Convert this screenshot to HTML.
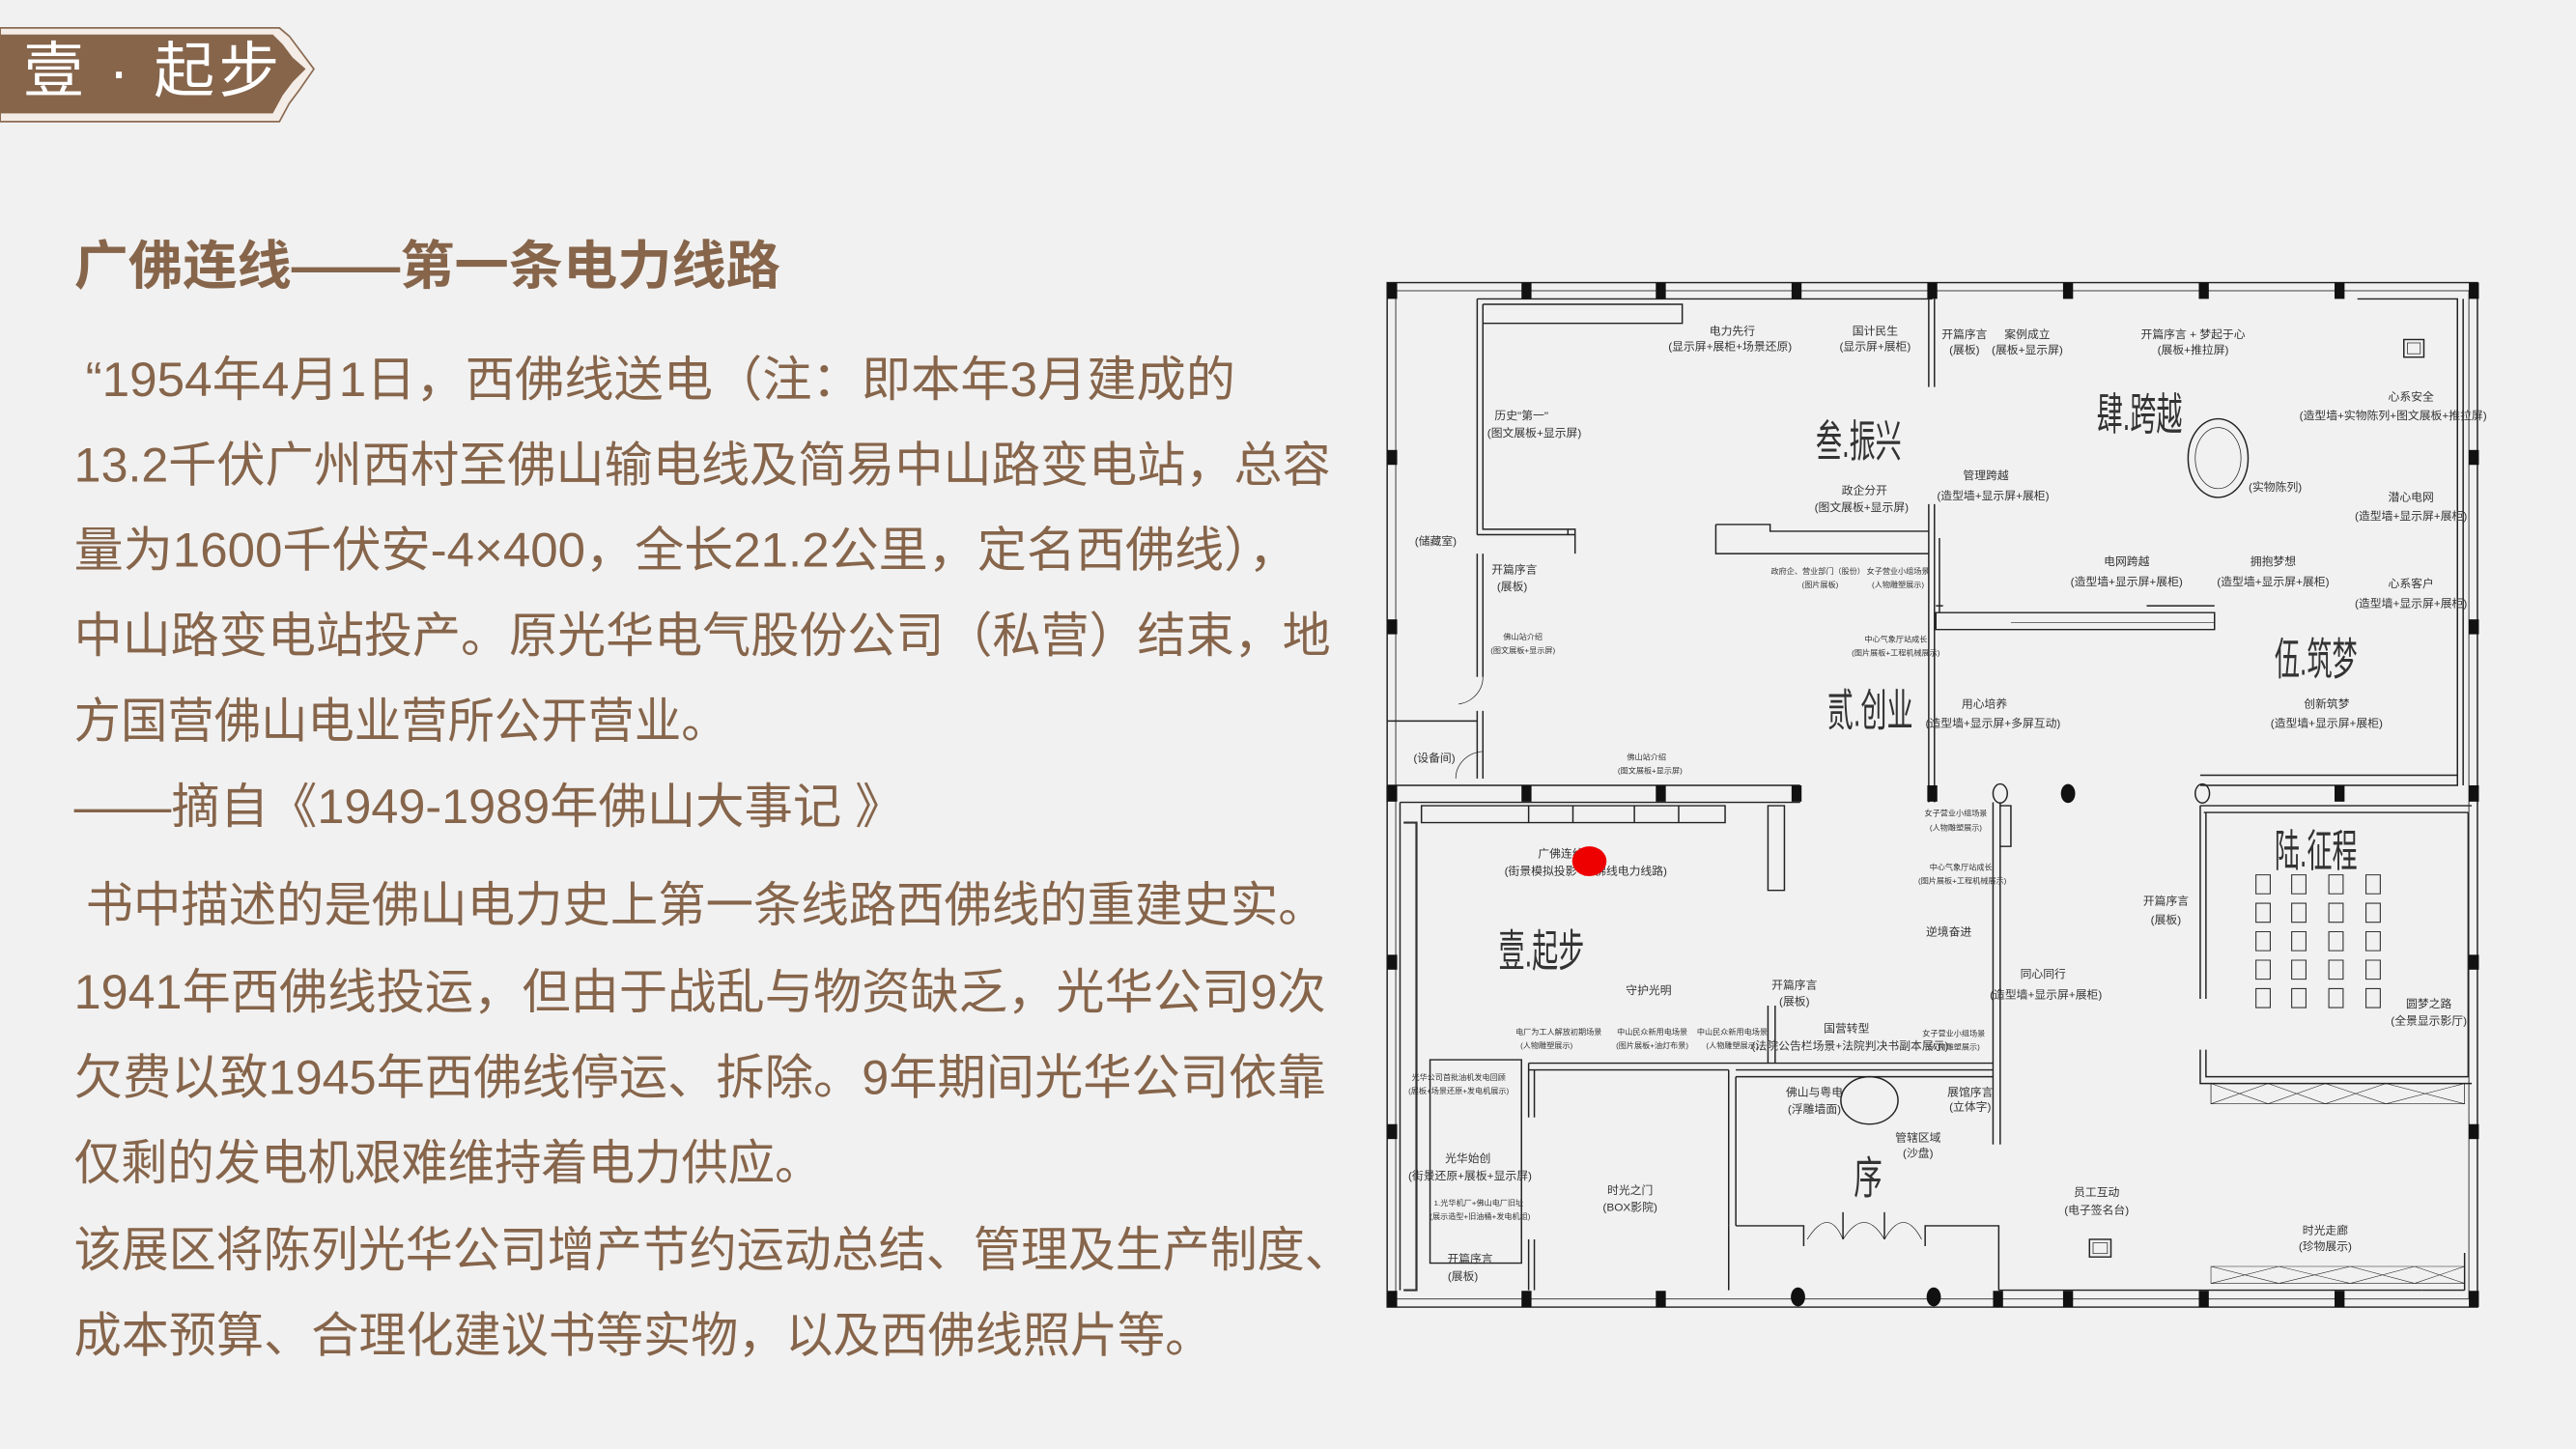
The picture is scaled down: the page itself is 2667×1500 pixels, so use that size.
<!DOCTYPE html>
<html><head><meta charset="utf-8"><style>
html,body{margin:0;padding:0;background:#f1f1f1;}
svg{display:block;}
.b{font-family:"Liberation Sans","Noto Sans CJK SC",sans-serif;fill:#86654b;font-size:29.5px;}
.p{font-family:"Liberation Sans","Noto Sans CJK SC",sans-serif;fill:#333;}
</style></head><body>
<svg width="2667" height="1500" viewBox="0 0 1568 882" xmlns="http://www.w3.org/2000/svg">
<rect width="1568" height="882" fill="#f1f1f1"/>
<path d="M0,17 L170,17 L176,22 L182,30 L191,42 L182,55 L176,63 L170,74 L0,74 Z" fill="#f4ece6" stroke="#8a6a52" stroke-width="1"/>
<path d="M0,21 L166,21 L172,27 L178,35 L186,42 L178,50 L172,58 L166,69 L0,69 Z" fill="#86654b"/>
<text x="14" y="56" font-family="Liberation Sans,Noto Sans CJK SC,sans-serif" font-size="37" fill="#fff" textLength="156" lengthAdjust="spacing">壹 · 起步</text>
<text x="45" y="173" font-family="Liberation Sans,Noto Sans CJK SC,sans-serif" font-size="32" font-weight="bold" fill="#86654b" textLength="430" lengthAdjust="spacingAndGlyphs">广佛连线——第一条电力线路</text>
<text class="b" x="52" y="241" textLength="700" lengthAdjust="spacingAndGlyphs">“1954年4月1日，西佛线送电（注：即本年3月建成的</text>
<text class="b" x="45" y="293" textLength="765" lengthAdjust="spacingAndGlyphs">13.2千伏广州西村至佛山输电线及简易中山路变电站，总容</text>
<text class="b" x="45" y="345" textLength="745" lengthAdjust="spacingAndGlyphs">量为1600千伏安-4×400，全长21.2公里，定名西佛线），</text>
<text class="b" x="45" y="397" textLength="765" lengthAdjust="spacingAndGlyphs">中山路变电站投产。原光华电气股份公司（私营）结束，地</text>
<text class="b" x="45" y="449" textLength="398" lengthAdjust="spacingAndGlyphs">方国营佛山电业营所公开营业。</text>
<text class="b" x="45" y="501" textLength="505" lengthAdjust="spacingAndGlyphs">——摘自《1949-1989年佛山大事记 》</text>
<text class="b" x="52" y="561" textLength="755" lengthAdjust="spacingAndGlyphs">书中描述的是佛山电力史上第一条线路西佛线的重建史实。</text>
<text class="b" x="45" y="614" textLength="762" lengthAdjust="spacingAndGlyphs">1941年西佛线投运，但由于战乱与物资缺乏，光华公司9次</text>
<text class="b" x="45" y="666" textLength="762" lengthAdjust="spacingAndGlyphs">欠费以致1945年西佛线停运、拆除。9年期间光华公司依靠</text>
<text class="b" x="45" y="718" textLength="455" lengthAdjust="spacingAndGlyphs">仅剩的发电机艰难维持着电力供应。</text>
<text class="b" x="45" y="771" textLength="778" lengthAdjust="spacingAndGlyphs">该展区将陈列光华公司增产节约运动总结、管理及生产制度、</text>
<text class="b" x="45" y="823" textLength="693" lengthAdjust="spacingAndGlyphs">成本预算、合理化建议书等实物，以及西佛线照片等。</text>

<svg x="834.8" y="164.6" width="682" height="646.7" viewBox="0 0 1568 1568" preserveAspectRatio="none">
<g fill="none" stroke="#222" stroke-width="2">
<rect x="22" y="18" width="1526" height="1512"/>
<rect x="34" y="30" width="1502" height="1488" stroke-width="1.2"/>
<path d="M148,42 H785 M156,50 H435 V78 H156 M148,42 V390 M156,50 V382 H275 V390 M148,390 H285 V418 M275,382 H285 V418"/>
<path d="M780,42 V172 M788,42 V172"/>
<path d="M780,345 V785 M788,345 V785"/>
<path d="M482,375 H558 V385 H780 M482,375 V418 H780"/>
<path d="M148,418 V600 M156,418 V600 M148,650 V750 M156,650 V750 M22,665 H148"/>
<path d="M156,600 A40,40 0 0 1 122,640" stroke-width="1"/>
<path d="M156,710 A40,40 0 0 0 118,750" stroke-width="1"/>
<path d="M790,505 H1180 V530 H790 Z M790,495 H800 M795,395 V505 M1085,495 H1180"/>
<path d="M895,520 H1180" stroke-width="1"/>
<path d="M1380,42 H1520 V140 M1520,42 V760 M1528,42 V760"/>
<path d="M1160,745 H1520 V760 H1160"/>
<path d="M22,760 H600 M40,785 H600 M22,760 V785"/>
<path d="M40,785 V1505 M70,790 H495 V815 H70 Z M220,790 V815 M282,790 V815 M368,790 V815 M430,790 V815"/>
<path d="M555,790 H578 V915 H555 Z"/>
<path d="M870,785 V1290 M880,785 V1290 M880,790 H895 V850 H880"/>
<path d="M220,1170 H870 M220,1180 H500 M220,1170 V1250 M228,1180 V1250 M228,1430 V1505 M220,1430 V1505"/>
<path d="M500,1180 V1410 M510,1190 V1410 M510,1180 H870 M510,1190 H870"/>
<path d="M555,1085 V1170 M565,1085 V1170"/>
<path d="M82,1165 H210 V1465 H82 Z"/>
<path d="M500,1410 V1505 M510,1410 H605 V1440 M775,1440 V1410 H878 V1505 M878,1505 H1470"/>
<path d="M610,1430 Q640,1380 660,1430 M660,1430 Q690,1380 718,1430 M718,1430 Q745,1380 770,1430" stroke-width="1"/>
<path d="M660,1390 V1430 M718,1390 V1430"/>
<path d="M1160,790 H1540 M1165,800 H1535 M1160,790 V1075 M1168,800 V1075 M1160,1150 V1200 H1540 M1168,1150 V1190 H1535 V1160 M1535,800 V1160"/>
<path d="M1175,1200 H1530 V1230 H1175 Z" stroke-width="1"/>
<path d="M1175,1200 L1255,1230 L1335,1200 L1420,1230 L1530,1200 M1175,1230 L1255,1200 L1335,1230 L1420,1200 L1530,1230" stroke-width="0.8"/>
<path d="M1175,1470 H1530 V1495 H1175 Z M1175,1470 L1270,1495 L1370,1470 L1460,1495 L1530,1470 M1175,1495 L1270,1470 L1370,1495 L1460,1470 L1530,1495" stroke-width="0.8"/>
<path d="M1530,1450 V1505 M1470,1505 H1530"/>
<ellipse cx="1185" cy="277" rx="42" ry="58"/>
<ellipse cx="1185" cy="277" rx="32" ry="45" stroke-width="1"/>
<ellipse cx="697" cy="1225" rx="40" ry="35"/>
<rect x="1445" y="102" width="28" height="26"/><rect x="1450" y="107" width="18" height="16" stroke-width="1"/>
<rect x="1005" y="1430" width="30" height="26"/><rect x="1010" y="1435" width="20" height="16" stroke-width="1"/>
</g>
<g fill="none" stroke="#333" stroke-width="1.5">
<path d="M1238,892 h20 v28 h-20 Z M1288,892 h20 v28 h-20 Z M1340,892 h20 v28 h-20 Z M1392,892 h20 v28 h-20 Z
M1238,934 h20 v28 h-20 Z M1288,934 h20 v28 h-20 Z M1340,934 h20 v28 h-20 Z M1392,934 h20 v28 h-20 Z
M1238,976 h20 v28 h-20 Z M1288,976 h20 v28 h-20 Z M1340,976 h20 v28 h-20 Z M1392,976 h20 v28 h-20 Z
M1238,1018 h20 v28 h-20 Z M1288,1018 h20 v28 h-20 Z M1340,1018 h20 v28 h-20 Z M1392,1018 h20 v28 h-20 Z
M1238,1060 h20 v28 h-20 Z M1288,1060 h20 v28 h-20 Z M1340,1060 h20 v28 h-20 Z M1392,1060 h20 v28 h-20 Z"/>
<path d="M45,815 h18 v690 h-18" stroke-width="3"/>
</g>
<g fill="#111">
<rect x="22" y="18" width="14" height="24"/><rect x="210" y="18" width="14" height="24"/><rect x="398" y="18" width="14" height="24"/><rect x="588" y="18" width="14" height="24"/><rect x="778" y="18" width="14" height="24"/><rect x="968" y="18" width="14" height="24"/><rect x="1158" y="18" width="14" height="24"/><rect x="1348" y="18" width="14" height="24"/><rect x="1536" y="18" width="14" height="24"/>
<rect x="22" y="1506" width="14" height="24"/><rect x="210" y="1506" width="14" height="24"/><rect x="398" y="1506" width="14" height="24"/><rect x="1158" y="1506" width="14" height="24"/><rect x="1348" y="1506" width="14" height="24"/><rect x="1536" y="1506" width="14" height="24"/><rect x="870" y="1506" width="14" height="24"/><rect x="968" y="1506" width="14" height="24"/>
<rect x="22" y="265" width="14" height="22"/><rect x="22" y="515" width="14" height="22"/><rect x="22" y="760" width="14" height="24"/><rect x="22" y="1010" width="14" height="22"/><rect x="22" y="1260" width="14" height="22"/>
<rect x="1536" y="265" width="14" height="22"/><rect x="1536" y="515" width="14" height="22"/><rect x="1536" y="760" width="14" height="24"/><rect x="1536" y="1010" width="14" height="22"/><rect x="1536" y="1260" width="14" height="22"/>
<rect x="210" y="760" width="14" height="24"/><rect x="398" y="760" width="14" height="24"/><rect x="588" y="760" width="14" height="24"/><rect x="778" y="760" width="14" height="24"/><rect x="1348" y="760" width="14" height="24"/>
<ellipse cx="975" cy="772" rx="10" ry="14"/><ellipse cx="597" cy="1515" rx="10" ry="14"/><ellipse cx="787" cy="1515" rx="10" ry="14"/>
</g>
<ellipse cx="880" cy="772" rx="10" ry="14" fill="none" stroke="#222" stroke-width="2"/>
<ellipse cx="1163" cy="772" rx="10" ry="14" fill="none" stroke="#222" stroke-width="2"/>
<g class="p" font-size="66" fill="#222">
<text x="622" y="275" textLength="120" lengthAdjust="spacingAndGlyphs">叁.振兴</text>
<text x="1015" y="235" textLength="120" lengthAdjust="spacingAndGlyphs">肆.跨越</text>
<text x="638" y="672" textLength="120" lengthAdjust="spacingAndGlyphs">贰.创业</text>
<text x="1264" y="597" textLength="116" lengthAdjust="spacingAndGlyphs">伍.筑梦</text>
<text x="1264" y="880" textLength="116" lengthAdjust="spacingAndGlyphs">陆.征程</text>
<text x="178" y="1027" textLength="120" lengthAdjust="spacingAndGlyphs">壹.起步</text>
<text x="675" y="1362" textLength="40" lengthAdjust="spacingAndGlyphs">序</text>
</g>
<g class="p" font-size="16" text-anchor="middle" fill="#333">
<text x="505" y="95">电力先行</text><text x="502" y="118">(显示屏+展柜+场景还原)</text>
<text x="705" y="95">国计民生</text><text x="705" y="118">(显示屏+展柜)</text>
<text x="830" y="100">开篇序言</text><text x="830" y="123">(展板)</text>
<text x="918" y="100">案例成立</text><text x="918" y="123">(展板+显示屏)</text>
<text x="1150" y="100">开篇序言 + 梦起于心</text><text x="1150" y="123">(展板+推拉屏)</text>
<text x="210" y="220">历史"第一"</text><text x="228" y="245">(图文展板+显示屏)</text>
<text x="1455" y="192">心系安全</text><text x="1430" y="220">(造型墙+实物陈列+图文展板+推拉屏)</text>
<text x="860" y="308">管理跨越</text><text x="870" y="338">(造型墙+显示屏+展柜)</text>
<text x="690" y="330">政企分开</text><text x="686" y="355">(图文展板+显示屏)</text>
<text x="1265" y="325">(实物陈列)</text>
<text x="1455" y="340">潜心电网</text><text x="1455" y="368">(造型墙+显示屏+展柜)</text>
<text x="90" y="405">(储藏室)</text>
<text x="200" y="447">开篇序言</text><text x="197" y="472">(展板)</text>
<text x="1057" y="435">电网跨越</text><text x="1057" y="465">(造型墙+显示屏+展柜)</text>
<text x="1262" y="435">拥抱梦想</text><text x="1262" y="465">(造型墙+显示屏+展柜)</text>
<text x="1455" y="468">心系客户</text><text x="1455" y="497">(造型墙+显示屏+展柜)</text>
<text x="858" y="645">用心培养</text><text x="870" y="674">(造型墙+显示屏+多屏互动)</text>
<text x="1337" y="645">创新筑梦</text><text x="1337" y="674">(造型墙+显示屏+展柜)</text>
<text x="88" y="725">(设备间)</text>
<text x="265" y="866">广佛连线</text><text x="300" y="892">(街景模拟投影+广佛线电力线路)</text>
<text x="388" y="1068">守护光明</text>
<text x="592" y="1060">开篇序言</text><text x="592" y="1084">(展板)</text>
<text x="1112" y="936">开篇序言</text><text x="1112" y="964">(展板)</text>
<text x="940" y="1044">同心同行</text><text x="944" y="1074">(造型墙+显示屏+展柜)</text>
<text x="808" y="982">逆境奋进</text>
<text x="665" y="1124">国营转型</text><text x="670" y="1150">(法院公告栏场景+法院判决书副本展示)</text>
<text x="1480" y="1088">圆梦之路</text><text x="1480" y="1113">(全景显示影厅)</text>
<text x="620" y="1218">佛山与粤电</text><text x="620" y="1243">(浮雕墙面)</text>
<text x="838" y="1218">展馆序言</text><text x="838" y="1240">(立体字)</text>
<text x="765" y="1285">管辖区域</text><text x="765" y="1308">(沙盘)</text>
<text x="135" y="1316">光华始创</text><text x="138" y="1342">(街景还原+展板+显示屏)</text>
<text x="362" y="1363">时光之门</text><text x="362" y="1388">(BOX影院)</text>
<text x="1015" y="1366">员工互动</text><text x="1015" y="1392">(电子签名台)</text>
<text x="1335" y="1422">时光走廊</text><text x="1335" y="1446">(珍物展示)</text>
<text x="138" y="1464">开篇序言</text><text x="128" y="1490">(展板)</text>
</g>
<g class="p" font-size="11" text-anchor="middle" fill="#444">
<text x="625" y="448">政府企、营业部门（股份）</text><text x="628" y="468">(图片展板)</text>
<text x="737" y="448">女子营业小组场景</text><text x="737" y="468">(人物雕塑展示)</text>
<text x="212" y="545">佛山站介绍</text><text x="212" y="565">(图文展板+显示屏)</text>
<text x="734" y="548">中心气象厅站成长</text><text x="734" y="568">(图片展板+工程机械展示)</text>
<text x="385" y="722">佛山站介绍</text><text x="390" y="742">(图文展板+显示屏)</text>
<text x="818" y="805">女子营业小组场景</text><text x="818" y="826">(人物雕塑展示)</text>
<text x="825" y="885">中心气象厅站成长</text><text x="827" y="905">(图片展板+工程机械展示)</text>
<text x="262" y="1128">电厂为工人解放初期场景</text><text x="245" y="1148">(人物雕塑展示)</text>
<text x="393" y="1128">中山民众新用电场景</text><text x="393" y="1148">(图片展板+油灯布景)</text>
<text x="505" y="1128">中山民众新用电场景</text><text x="505" y="1148">(人物雕塑展示)</text>
<text x="815" y="1130">女子营业小组场景</text><text x="815" y="1150">(人物雕塑展示)</text>
<text x="122" y="1195">光华公司首批油机发电回顾</text><text x="122" y="1215">(展板+场景还原+发电机展示)</text>
<text x="150" y="1380">1.光华机厂+佛山电厂旧址</text><text x="152" y="1400">(展示造型+旧油桶+发电机组)</text>
</g>
<ellipse cx="305" cy="872" rx="24" ry="22" fill="#ee0000"/>
</svg>
</svg>
</body></html>
